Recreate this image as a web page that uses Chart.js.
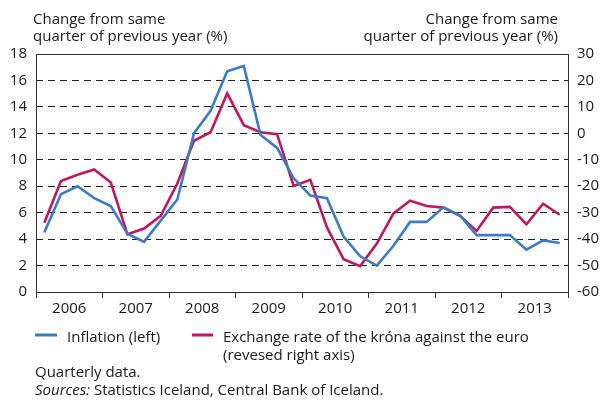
<!DOCTYPE html>
<html>
<head>
    <meta charset="utf-8">
    <title>Inflation and the króna</title>
    <script src="https://cdn.jsdelivr.net/npm/chart.js@4.4.0/dist/chart.umd.min.js"></script>
    <style>
        body { margin: 0; background: #fff; }
        #wrap { width: 602px; height: 401px; }
    </style>
</head>
<body>
    <div id="wrap"><canvas id="myChart" width="602" height="401"></canvas></div>

    <script>
        // 2006 Q1 ... 2013 Q4
        var years = ['2006', '2007', '2008', '2009', '2010', '2011', '2012', '2013'];
        var inflation = [4.5, 7.4, 8.0, 7.1, 6.5, 4.4, 3.8, 5.4,
                         7.0, 12.0, 13.7, 16.7, 17.1, 11.9, 10.9, 8.6,
                         7.3, 7.1, 4.2, 2.7, 2.0, 3.5, 5.3, 5.3,
                         6.4, 5.8, 4.3, 4.3, 4.3, 3.2, 3.9, 3.7];
        // exchange rate of the krona against the euro, sign reversed (right axis)
        var kronaEuro = [-33.8, -18.0, -15.7, -13.7, -18.6, -38.2, -36.0, -31.2,
                         -19.0, -2.8, 0.4, 15.1, 3.1, 0.4, -0.3, -19.9,
                         -17.6, -35.6, -47.6, -50.2, -41.7, -30.3, -25.5, -27.5,
                         -28.1, -31.2, -36.9, -28.1, -27.8, -34.4, -26.6, -30.8];

        var FONT = '"Open Sans", "DejaVu Sans", sans-serif';
        var TEXT = '#1a1a1a';

        function toPoints(arr) {
            return arr.map(function (v, i) { return { x: i + 0.5, y: v }; });
        }

        var textPlugin = {
            id: 'texts',
            beforeDatasetsDraw: function (chart) {
                var a = chart.chartArea, ctx = chart.ctx;
                ctx.save();
                ctx.setLineDash([]);
                ctx.strokeStyle = '#333';
                ctx.lineWidth = 1;
                ctx.strokeRect(Math.round(a.left) + 0.5, Math.round(a.top) + 0.5,
                    Math.round(a.right - a.left), Math.round(a.bottom - a.top));
                ctx.restore();
            },
            afterDraw: function (chart) {
                var ctx = chart.ctx;
                var ds = chart.data.datasets;
                ctx.save();
                ctx.fillStyle = TEXT;
                ctx.font = '15px ' + FONT;
                ctx.textBaseline = 'alphabetic';

                ctx.textAlign = 'left';
                ctx.fillText('Change from same', 33, 24);
                ctx.fillText('quarter of previous year (%)', 33, 41);
                ctx.textAlign = 'right';
                ctx.fillText('Change from same', 558, 24);
                ctx.fillText('quarter of previous year (%)', 558, 41);

                // legend
                ctx.textAlign = 'left';
                ctx.lineWidth = 3;
                ctx.strokeStyle = ds[0].borderColor;
                ctx.beginPath(); ctx.moveTo(35, 335); ctx.lineTo(57, 335); ctx.stroke();
                ctx.fillText(ds[0].label, 67, 342);
                ctx.strokeStyle = ds[1].borderColor;
                ctx.beginPath(); ctx.moveTo(192, 335); ctx.lineTo(213, 335); ctx.stroke();
                ctx.fillText(ds[1].label, 223, 342);
                ctx.fillText('(revesed right axis)', 223, 360);

                ctx.fillText('Quarterly data.', 35, 377);
                ctx.font = 'italic 15px ' + FONT;
                ctx.fillText('Sources:', 35, 395);
                var w = ctx.measureText('Sources: ').width;
                ctx.font = '15px ' + FONT;
                ctx.fillText('Statistics Iceland, Central Bank of Iceland.', 35 + w, 395);
                ctx.restore();
            }
        };

        const ctx = document.getElementById('myChart').getContext('2d');
        const myChart = new Chart(ctx, {
            type: 'line',
            data: {
                datasets: [
                    {
                        label: 'Inflation (left)',
                        data: toPoints(inflation),
                        yAxisID: 'y',
                        borderColor: '#3b7cc4',
                        borderWidth: 2.6,
                        pointRadius: 0,
                        tension: 0
                    },
                    {
                        label: 'Exchange rate of the króna against the euro',
                        data: toPoints(kronaEuro),
                        yAxisID: 'y1',
                        borderColor: '#c0175d',
                        borderWidth: 2.6,
                        pointRadius: 0,
                        tension: 0
                    }
                ]
            },
            options: {
                responsive: false,
                animation: false,
                layout: { padding: { top: 54, left: 0, right: 0, bottom: 0 } },
                plugins: {
                    legend: { display: false },
                    tooltip: { enabled: false }
                },
                scales: {
                    x: {
                        type: 'linear',
                        min: 0,
                        max: 32,
                        afterBuildTicks: function (scale) {
                            var t = [];
                            for (var v = 0; v <= 32; v += 2) t.push({ value: v });
                            scale.ticks = t;
                        },
                        afterFit: function (scale) { scale.height = 109; },
                        ticks: {
                            autoSkip: false,
                            maxRotation: 0,
                            padding: 2,
                            color: TEXT,
                            font: { family: FONT, size: 15 },
                            callback: function (v) {
                                return v % 4 === 2 ? years[(v - 2) / 4] : '';
                            }
                        },
                        grid: {
                            drawOnChartArea: false,
                            tickLength: 6,
                            color: function (c) {
                                return c.tick && c.tick.value % 4 === 0 ? '#333' : 'rgba(0,0,0,0)';
                            }
                        },
                        border: { display: false }
                    },
                    y: {
                        position: 'left',
                        min: 0,
                        max: 18,
                        afterFit: function (scale) { scale.width = 36; },
                        ticks: {
                            stepSize: 2,
                            padding: 9,
                            color: TEXT,
                            font: { family: FONT, size: 15 }
                        },
                        grid: {
                            drawTicks: false,
                            color: function (c) {
                                var v = c.tick ? c.tick.value : 0;
                                return (v === 0 || v === 18) ? 'rgba(0,0,0,0)' : '#222';
                            }
                        },
                        border: { display: false, dash: [7, 5] }
                    },
                    y1: {
                        position: 'right',
                        min: -60,
                        max: 30,
                        afterFit: function (scale) { scale.width = 34; },
                        ticks: {
                            stepSize: 10,
                            padding: 9,
                            color: TEXT,
                            font: { family: FONT, size: 15 }
                        },
                        grid: { display: false, drawTicks: false },
                        border: { display: false }
                    }
                }
            },
            plugins: [textPlugin]
        });
    </script>
</body>
</html>
